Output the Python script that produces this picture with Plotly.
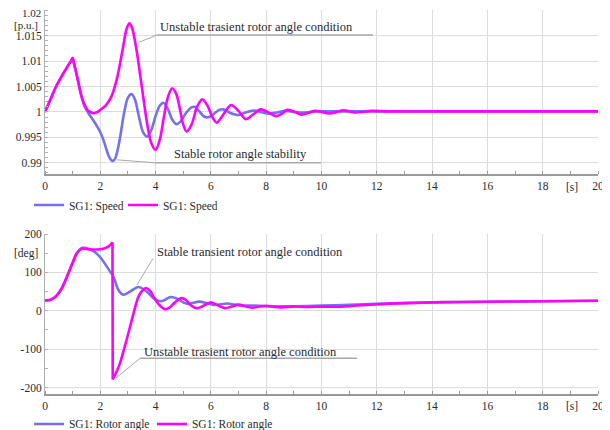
import plotly.graph_objects as go

# ---------------- data ----------------
# Speed [p.u.] - stable case (blue)
t_speed_stable = [0, 0.2, 0.4, 0.6, 0.8, 0.95, 1.0, 1.05, 1.15, 1.3, 1.4, 1.5, 1.6, 1.75, 1.9, 2.0, 2.1, 2.2,
                  2.3, 2.4, 2.47, 2.55, 2.7, 2.85, 3.0, 3.13, 3.25, 3.4, 3.55, 3.7, 3.85, 4.0, 4.15,
                  4.28, 4.45, 4.6, 4.75, 4.9, 5.1, 5.3, 5.42, 5.6, 5.75, 5.91, 6.1, 6.3, 6.45, 6.7,
                  6.99, 7.25, 7.53, 7.8, 8.1, 8.4, 8.7, 9.0, 9.4, 9.8, 10.5, 12, 14, 16, 18, 20]
speed_stable = [1.0, 1.0025, 1.0050, 1.0070, 1.0088, 1.0101, 1.0106, 1.0095, 1.0072, 1.0035, 1.0015, 1.0004,
                0.9995, 0.9983, 0.9970, 0.9960, 0.9947, 0.9930, 0.9914, 0.9905, 0.9904, 0.9910, 0.9945,
                0.9995, 1.0028, 1.0035, 1.0025, 0.9990, 0.9960, 0.99516, 0.9965, 0.9992, 1.0012, 1.0018,
                1.0005, 0.9985, 0.9976, 0.9981, 0.9998, 1.0009, 1.0010, 1.0000, 0.9991, 0.99896, 0.9996,
                1.0004, 1.0005, 0.9998, 0.9994, 0.9999, 1.00025, 1.0000, 0.99965, 0.9999, 1.0002, 1.0000,
                0.9999, 1.0001, 1.0001, 1.0001, 1.0001, 1.0001, 1.0001, 1.0001]

# Speed [p.u.] - unstable case (magenta)
t_speed_unstable = [0, 0.2, 0.4, 0.6, 0.8, 0.95, 1.0, 1.05, 1.15, 1.3, 1.4, 1.5, 1.6, 1.75, 1.9, 2.0, 2.2,
                    2.4, 2.6, 2.8, 2.95, 3.05, 3.15, 3.3, 3.5, 3.7, 3.85, 4.0, 4.15, 4.3, 4.45, 4.6,
                    4.75, 4.9, 5.0, 5.12, 5.3, 5.5, 5.69, 5.9, 6.05, 6.21, 6.45, 6.73, 7.0, 7.26, 7.5,
                    7.8, 8.05, 8.35, 8.55, 8.76, 9.0, 9.28, 9.5, 9.75, 10.0, 10.25, 10.5, 10.8, 11.2,
                    11.5, 11.8, 12.5, 14, 16, 18, 20]
speed_unstable = [1.0, 1.0025, 1.0050, 1.0070, 1.0088, 1.0101, 1.0106, 1.0095, 1.0072, 1.0035, 1.0018,
                  1.0007, 1.0001, 0.99975, 1.0000, 1.0004, 1.0013, 1.0030, 1.0065, 1.0120, 1.0163,
                  1.0174, 1.0165, 1.0125, 1.0050, 0.9975, 0.9938, 0.99255, 0.9945, 0.9990, 1.0030,
                  1.00465, 1.0035, 1.0000, 0.9975, 0.99614, 0.9975, 1.0010, 1.0025, 1.0010, 0.9990,
                  0.9979, 0.9995, 1.00137, 1.0002, 0.99857, 0.9994, 1.0005, 1.0000, 0.9992, 0.9996,
                  1.0004, 1.0001, 0.99947, 0.9998, 1.0002, 1.0000, 0.9997, 0.9999, 1.0003, 0.9999,
                  1.0000, 1.0002, 1.0001, 1.0001, 1.0001, 1.0001, 1.0001]

# Rotor angle [deg] - stable case (blue)
t_angle_stable = [0, 0.2, 0.4, 0.6, 0.8, 1.0, 1.15, 1.33, 1.5, 1.7, 1.9, 2.1, 2.3, 2.47, 2.65, 2.83,
                  3.07, 3.38, 3.68, 3.92, 4.2, 4.55, 4.8, 5.0, 5.18, 5.58, 5.85, 6.1, 6.6, 6.85, 7.1,
                  7.5, 8.0, 9.0, 10, 11, 12, 13, 14, 15, 16, 18, 20]
angle_stable = [27, 29, 38, 58, 90, 125, 150, 164, 163, 158, 147, 130, 108, 90, 55, 42, 50, 62, 50,
                33, 25, 36, 31, 22, 18, 24, 20, 15, 19, 16, 13, 14, 12, 12, 13.5, 15.5, 18, 20, 22,
                23, 23.5, 25, 26]

# Rotor angle [deg] - unstable case (magenta), before and after the +/-180 wrap
t_angle_unstable_a = [0, 0.2, 0.4, 0.6, 0.8, 1.0, 1.15, 1.33, 1.5, 1.7, 1.9, 2.1, 2.25, 2.35, 2.44]
angle_unstable_a = [27, 29, 38, 58, 90, 125, 150, 162, 161, 160, 160, 162, 166, 171, 179]
t_angle_unstable_b = [2.45, 2.55, 2.71, 2.95, 3.19, 3.38, 3.55, 3.68, 3.8, 3.92, 4.1, 4.34, 4.5, 4.7,
                      4.94, 5.1, 5.25, 5.49, 5.7, 5.99, 6.2, 6.51, 6.75, 6.99, 7.25, 7.5, 7.75, 8.0,
                      8.3, 8.55, 9.0, 9.5, 10.0, 10.5, 11.0, 12.0, 13, 14, 16, 18, 20]
angle_unstable_b = [-179, -165, -137, -76, -10, 37, 55, 59, 52, 37, 18, 4, 8, 22, 33, 28, 16, 7, 12,
                    22, 16, 7, 11, 16, 12, 8, 11, 13, 10, 9, 11, 10, 11, 10.5, 12, 17, 20, 22, 23.5,
                    25, 26]

speed_ticks = [0.99, 0.995, 1.0, 1.005, 1.01, 1.015, 1.02]
speed_ticktext = ["0.99", "0.995", "1", "1.005", "1.01", "1.015", "1.02"]
angle_ticks = [-200, -100, 0, 100, 200]
angle_ticktext = ["-200", "-100", "0", "100", "200"]
time_ticks = [0, 2, 4, 6, 8, 10, 12, 14, 16, 18, 20]

BLUE = "#7471ee"
MAGENTA = "#ff00ff"
FONT = "Liberation Serif, Times New Roman, serif"
TXT = "#2a2a2a"
GRID = "#dcdcdc"

fig = go.Figure()

fig.add_trace(go.Scatter(x=t_speed_stable, y=speed_stable, name="SG1: Speed", mode="lines",
                         line=dict(color=BLUE, width=2.6, shape="spline", smoothing=0.9),
                         xaxis="x", yaxis="y", legend="legend"))
fig.add_trace(go.Scatter(x=t_speed_unstable, y=speed_unstable, name="SG1: Speed", mode="lines",
                         line=dict(color=MAGENTA, width=2.6, shape="spline", smoothing=0.9),
                         xaxis="x", yaxis="y", legend="legend"))

fig.add_trace(go.Scatter(x=t_angle_stable, y=angle_stable, name="SG1: Rotor angle", mode="lines",
                         line=dict(color=BLUE, width=2.6, shape="spline", smoothing=0.9),
                         xaxis="x2", yaxis="y2", legend="legend2"))
fig.add_trace(go.Scatter(x=t_angle_unstable_a + [None] + t_angle_unstable_b,
                         y=angle_unstable_a + [None] + angle_unstable_b,
                         name="SG1: Rotor angle", mode="lines", connectgaps=False,
                         line=dict(color=MAGENTA, width=2.6, shape="spline", smoothing=0.9),
                         xaxis="x2", yaxis="y2", legend="legend2"))
# vertical wrap connector
fig.add_trace(go.Scatter(x=[t_angle_unstable_a[-1], t_angle_unstable_b[0]],
                         y=[angle_unstable_a[-1], angle_unstable_b[0]], mode="lines",
                         line=dict(color=MAGENTA, width=2.6), showlegend=False,
                         xaxis="x2", yaxis="y2", hoverinfo="skip"))

xcommon = dict(range=[0, 20.0001], tickvals=time_ticks, showgrid=True, gridcolor=GRID, gridwidth=1,
               showline=True, linecolor="#999999", linewidth=2, ticks="", zeroline=False,
               automargin=False, ticklabeloverflow="allow",
               tickfont=dict(family=FONT, size=11.5, color=TXT),
               minor=dict(dtick=1, ticks="inside", ticklen=3, tickcolor="#999999", showgrid=False))

# the top tick label sits at the very edge of the figure; it is drawn as an
# annotation nudged a few px down so it is not clipped
top_label = speed_ticktext[-1]
speed_ticktext_axis = speed_ticktext[:-1] + [""]

# the page body has an 8px margin, so the figure is 8px smaller than the window
fig.update_layout(
    width=602, height=422,
    margin=dict(l=37, r=12, t=2, b=36, autoexpand=False),
    paper_bgcolor="white", plot_bgcolor="white",
    font=dict(family=FONT, size=11, color=TXT),
    xaxis=dict(domain=[0, 1], anchor="y", **xcommon),
    yaxis=dict(domain=[0.5729, 1], anchor="x", range=[0.9878, 1.02003], tickvals=speed_ticks,
               ticktext=speed_ticktext_axis, showgrid=True, gridcolor=GRID, showline=True,
               linecolor="#b0b0b0", linewidth=1, zeroline=False, ticks="", automargin=False,
               ticklabeloverflow="allow",
               tickfont=dict(family=FONT, size=11.5, color=TXT),
               minor=dict(dtick=0.001, ticks="inside", ticklen=3, tickcolor="#b0b0b0", showgrid=False)),
    xaxis2=dict(domain=[0, 1], anchor="y2", **xcommon),
    yaxis2=dict(domain=[0, 0.4167], anchor="x2", range=[-217, 200.3], tickvals=angle_ticks,
                ticktext=angle_ticktext, showgrid=True, gridcolor=GRID, showline=True,
                linecolor="#b0b0b0", linewidth=1, zeroline=False, ticks="", automargin=False,
                ticklabeloverflow="allow",
                tickfont=dict(family=FONT, size=11.5, color=TXT),
                minor=dict(dtick=50, ticks="inside", ticklen=3, tickcolor="#b0b0b0", showgrid=False)),
    legend=dict(orientation="h", x=-0.029, xanchor="left", y=0.492, yanchor="middle",
                font=dict(family=FONT, size=11.5, color=TXT), itemwidth=30,
                bgcolor="rgba(0,0,0,0)", entrywidth=49),
    legend2=dict(orientation="h", x=-0.029, xanchor="left", y=-0.078, yanchor="middle",
                 font=dict(family=FONT, size=11.5, color=TXT), itemwidth=30,
                 bgcolor="rgba(0,0,0,0)", entrywidth=78),
    showlegend=True,
)

annot_font = dict(family=FONT, size=12.5, color=TXT)
small_font = dict(family=FONT, size=11.5, color=TXT)
unit_font = dict(family=FONT, size=11, color=TXT)
annotations = [
    dict(x=4.09, y=1.0167, xref="x", yref="y", text="Unstable trasient rotor angle condition",
         showarrow=False, xanchor="left", yanchor="middle", font=annot_font),
    dict(x=4.59, y=0.9917, xref="x", yref="y", text="Stable rotor angle stability",
         showarrow=False, xanchor="left", yanchor="middle", font=annot_font),
    dict(x=3.98, y=153, xref="x2", yref="y2", text="Stable transient rotor angle condition",
         showarrow=False, xanchor="left", yanchor="middle", font=annot_font),
    dict(x=3.5, y=-108, xref="x2", yref="y2", text="Unstable trasient rotor angle condition",
         showarrow=False, xanchor="left", yanchor="middle", font=annot_font),
    dict(x=19.05, y=0.539, xref="x", yref="paper", text="[s]", showarrow=False,
         font=small_font, yanchor="middle"),
    dict(x=19.05, y=-0.032, xref="x2", yref="paper", text="[s]", showarrow=False,
         font=small_font, yanchor="middle"),
    dict(x=-0.009, y=1.01706, xref="paper", yref="y", text="[p.u.]", showarrow=False,
         xanchor="right", yanchor="middle", font=unit_font),
    dict(x=-0.009, y=150, xref="paper", yref="y2", text="[deg]", showarrow=False,
         xanchor="right", yanchor="middle", font=small_font),
    dict(x=-0.0035, y=speed_ticks[-1], xref="paper", yref="y", text=top_label, showarrow=False,
         xanchor="right", yanchor="middle", yshift=-3, font=unit_font),
]
fig.update_layout(annotations=annotations)

LINE = "#a8a8a8"
shapes = [
    # top: unstable leader + underline
    dict(type="line", xref="x", yref="y", x0=3.4, y0=1.0137, x1=4.05, y1=1.0151, line=dict(color=LINE, width=1)),
    dict(type="line", xref="x", yref="y", x0=4.05, y0=1.0151, x1=11.86, y1=1.0151, line=dict(color=LINE, width=1.5)),
    # top: stable leader + underline
    dict(type="line", xref="x", yref="y", x0=2.6, y0=0.99059, x1=3.98, y1=0.9900, line=dict(color=LINE, width=1)),
    dict(type="line", xref="x", yref="y", x0=3.98, y0=0.9900, x1=9.98, y1=0.9900, line=dict(color=LINE, width=1.5)),
    # bottom: stable leader
    dict(type="line", xref="x2", yref="y2", x0=3.33, y0=68, x1=3.9, y1=136, line=dict(color=LINE, width=1)),
    # bottom: unstable leader + underline
    dict(type="line", xref="x2", yref="y2", x0=2.57, y0=-175, x1=3.44, y1=-124, line=dict(color=LINE, width=1)),
    dict(type="line", xref="x2", yref="y2", x0=3.44, y0=-124, x1=11.28, y1=-124, line=dict(color=LINE, width=1.5)),
]
fig.update_layout(shapes=shapes)

fig.write_html("out.html")
